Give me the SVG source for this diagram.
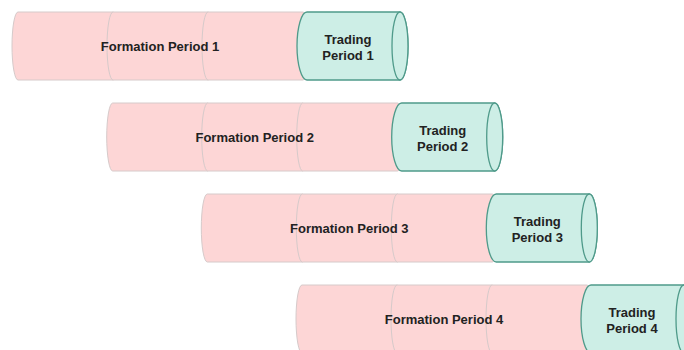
<svg xmlns="http://www.w3.org/2000/svg" width="684" height="350" viewBox="0 0 684 350">
<defs>
<style>
.seg{fill:#fdd6d6;stroke:#d6caca;stroke-width:1}
.trd{fill:#cdeee6;stroke:#4f9a8a;stroke-width:1.3}
.lbl{font-family:"Liberation Sans",Arial,sans-serif;font-weight:bold;font-size:13px;fill:#222;text-anchor:middle}
</style>
<g id="row">
<path class="seg" d="M6,0 H101 A6 34 0 0 1 101,68 H6 A6 34 0 0 1 6,0 Z"/>
<path class="seg" d="M101,0 H196 A6 34 0 0 1 196,68 H101 A6 34 0 0 1 101,0 Z"/>
<path class="seg" d="M196,0 H291 A6 34 0 0 1 291,68 H196 A6 34 0 0 1 196,0 Z"/>
<path class="trd" d="M295,0 H388 A8 34 0 0 1 388,68 H295 A10 34 0 0 1 295,0 Z"/>
<ellipse class="trd" cx="388" cy="34" rx="8" ry="34"/>
</g>
</defs>
<g id="period1" transform="translate(12,12)">
<use href="#row"/>
<text class="lbl" x="148" y="39">Formation Period 1</text>
<text class="lbl" x="336" y="32">Trading</text>
<text class="lbl" x="336" y="48">Period 1</text>
</g>
<g id="period2" transform="translate(106.7,103)">
<use href="#row"/>
<text class="lbl" x="148" y="39">Formation Period 2</text>
<text class="lbl" x="336" y="32">Trading</text>
<text class="lbl" x="336" y="48">Period 2</text>
</g>
<g id="period3" transform="translate(201.3,194)">
<use href="#row"/>
<text class="lbl" x="148" y="39">Formation Period 3</text>
<text class="lbl" x="336" y="32">Trading</text>
<text class="lbl" x="336" y="48">Period 3</text>
</g>
<g id="period4" transform="translate(296,285)">
<use href="#row"/>
<text class="lbl" x="148" y="39">Formation Period 4</text>
<text class="lbl" x="336" y="32">Trading</text>
<text class="lbl" x="336" y="48">Period 4</text>
</g>
<g id="connectors"/>
</svg>
